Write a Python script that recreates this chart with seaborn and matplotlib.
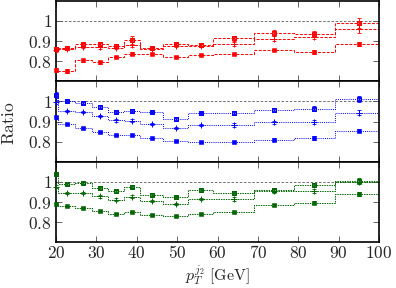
import numpy as np
import pandas as pd
import matplotlib
matplotlib.use("Agg")
import matplotlib.pyplot as plt
from matplotlib.ticker import FuncFormatter
import seaborn as sns

# bins in pT(j2)
bin_edges = [19.5, 20.5, 24.8, 28.8, 32.8, 36.8, 40.8, 46.6, 52.8, 59, 69, 79, 89, 100]
bin_centers = [20, 22.65, 26.8, 30.8, 34.8, 38.8, 43.7, 49.8, 55.9, 64, 74, 84, 95]

# top panel (red)
red_box = [0.86, 0.868, 0.885, 0.888, 0.876, 0.905, 0.866, 0.884, 0.883, 0.913, 0.941, 0.934, 0.99]
red_plus = [0.855, 0.862, 0.872, 0.870, 0.868, 0.882, 0.862, 0.876, 0.878, 0.885, 0.911, 0.921, 0.962]
red_sq = [0.756, 0.752, 0.805, 0.795, 0.821, 0.838, 0.835, 0.823, 0.83, 0.836, 0.857, 0.846, 0.888]
red_box_err = [0.01, 0.008, 0.008, 0.01, 0.008, 0.02, 0.006, 0.006, 0.008, 0.012, 0.015, 0.015, 0.025]
red_plus_err = [0.008, 0.006, 0.006, 0.008, 0.006, 0.012, 0.006, 0.006, 0.006, 0.01, 0.012, 0.012, 0.02]
red_sq_err = [0.01, 0.008, 0.008, 0.008, 0.006, 0.008, 0.005, 0.005, 0.005, 0.006, 0.006, 0.008, 0.01]

# middle panel (blue)
blue_box = [1.03, 1.003, 0.994, 0.974, 0.95, 0.953, 0.947, 0.913, 0.942, 0.943, 0.956, 0.965, 1.013]
blue_plus = [0.998, 0.955, 0.95, 0.929, 0.906, 0.905, 0.89, 0.869, 0.882, 0.883, 0.897, 0.897, 0.945]
blue_sq = [0.922, 0.889, 0.869, 0.85, 0.832, 0.834, 0.817, 0.805, 0.80, 0.80, 0.811, 0.819, 0.855]
blue_box_err = [0.015, 0.006, 0.006, 0.008, 0.008, 0.008, 0.006, 0.008, 0.008, 0.01, 0.01, 0.012, 0.015]
blue_plus_err = [0.01, 0.005, 0.005, 0.006, 0.006, 0.006, 0.005, 0.006, 0.006, 0.008, 0.008, 0.01, 0.012]
blue_sq_err = [0.008, 0.004, 0.004, 0.005, 0.005, 0.005, 0.004, 0.005, 0.005, 0.005, 0.006, 0.008, 0.008]

# bottom panel (green)
green_box = [1.04, 0.99, 0.995, 0.97, 0.953, 0.977, 0.937, 0.923, 0.96, 0.943, 0.962, 0.985, 1.005]
green_plus = [0.977, 0.945, 0.945, 0.928, 0.912, 0.927, 0.907, 0.89, 0.915, 0.915, 0.955, 0.957, 1.0]
green_sq = [0.893, 0.879, 0.873, 0.857, 0.84, 0.852, 0.835, 0.832, 0.843, 0.853, 0.885, 0.898, 0.94]
green_box_err = [0.01, 0.006, 0.006, 0.008, 0.008, 0.008, 0.006, 0.008, 0.008, 0.01, 0.01, 0.012, 0.015]
green_plus_err = [0.008, 0.005, 0.005, 0.006, 0.006, 0.006, 0.005, 0.006, 0.006, 0.008, 0.008, 0.01, 0.012]
green_sq_err = [0.006, 0.004, 0.004, 0.005, 0.005, 0.005, 0.004, 0.005, 0.005, 0.005, 0.006, 0.008, 0.008]

yticks = [0.8, 0.9, 1.0]
xticks = [20, 30, 40, 50, 60, 70, 80, 90, 100]

sns.set_style("ticks")
plt.rcParams["mathtext.fontset"] = "cm"
plt.rcParams["font.family"] = ["DejaVu Serif"]

panels = [
    ("#ff0000", (0, (3, 1.5)), [red_box, red_plus, red_sq], [red_box_err, red_plus_err, red_sq_err]),
    ("#0000ff", (0, (1, 1.2)), [blue_box, blue_plus, blue_sq], [blue_box_err, blue_plus_err, blue_sq_err]),
    ("#006400", (0, (1.5, 1)), [green_box, green_plus, green_sq], [green_box_err, green_plus_err, green_sq_err]),
]

fig = plt.figure(figsize=(3.96, 2.88), dpi=100)
left, right = 56 / 396, 379 / 396
ph = 80.5 / 288
top = 0.997
axes = []
for i in range(3):
    ax = fig.add_axes([left, top - (i + 1) * ph, right - left, ph])
    axes.append(ax)

fmt = FuncFormatter(lambda v, p: f"${v:g}$")

for ax, (color, ls, series, errs) in zip(axes, panels):
    ax.axhline(1.0, color="0.35", lw=0.6, dashes=(3, 2), zorder=1)
    for k, (vals, err) in enumerate(zip(series, errs)):
        df = pd.DataFrame({"x": bin_edges, "y": list(vals) + [vals[-1]]})
        sns.lineplot(data=df, x="x", y="y", ax=ax, color=color, lw=0.7,
                     linestyle=ls, drawstyle="steps-post", sort=False, zorder=2)
        ax.errorbar(bin_centers, vals, yerr=err, fmt="none", ecolor=color,
                    elinewidth=0.6, capsize=1.5, capthick=0.6, zorder=3)
        if k == 0:
            ax.plot(bin_centers, vals, ls="none", marker="s", ms=3.2, mfc="none",
                    mec=color, mew=0.7, clip_on=False, zorder=4)
            ax.plot(bin_centers, vals, ls="none", marker="x", ms=3.2, mec=color,
                    mew=0.7, clip_on=False, zorder=4)
        elif k == 1:
            ax.plot(bin_centers, vals, ls="none", marker="+", ms=4, mec=color,
                    mew=0.7, clip_on=False, zorder=4)
        else:
            ax.plot(bin_centers, vals, ls="none", marker="s", ms=3, mfc=color,
                    mec=color, mew=0.4, clip_on=False, zorder=4)

    ax.set_xlim(20, 100)
    ax.set_ylim(0.7, 1.1)
    ax.set_xticks(xticks)
    ax.set_yticks(yticks)
    ax.yaxis.set_major_formatter(fmt)
    ax.tick_params(direction="in", top=True, right=True, length=4, width=0.6,
                   labelsize=12.5, pad=3, color="0.3")
    ax.tick_params(axis="x", pad=2)
    ax.set_xlabel("")
    ax.set_ylabel("")
    for s in ax.spines.values():
        s.set_linewidth(1.2)
        s.set_color("black")

for ax in axes[:2]:
    ax.tick_params(labelbottom=False)
axes[2].xaxis.set_major_formatter(FuncFormatter(lambda v, p: f"${v:g}$"))

fig.text((left + right) / 2, 0.5 / 288, r"$p_T^{j_2}\ [\mathrm{GeV}]$", ha="center",
         va="bottom", fontsize=11.5)
fig.text(0.025, 1 - 123 / 288, r"$\mathrm{Ratio}$", rotation=90, ha="center",
         va="center", fontsize=12.5)

fig.savefig("out.png", dpi=100)
